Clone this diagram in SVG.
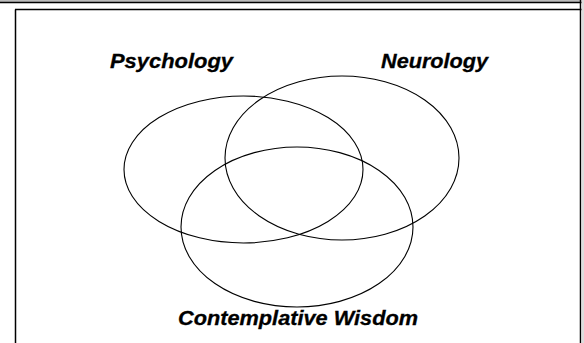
<svg xmlns="http://www.w3.org/2000/svg" width="584" height="343" viewBox="0 0 584 343">
  <style>
    .frame { fill: none; stroke: #000; stroke-width: 1.5; }
    .set { fill: none; stroke: #000; stroke-width: 1.1; }
    .label { font-family: "Liberation Sans", Arial, sans-serif; font-weight: bold; font-style: italic; font-size: 20px; fill: #000; stroke: #000; stroke-width: 0.3; }
  </style>
  <rect width="584" height="343" fill="#fff"/>
  <!-- page edge lines -->
  <g id="frame">
    <rect x="0" y="0" width="584" height="2" fill="#bbb"/>
    <line class="frame" x1="0" y1="2.5" x2="584" y2="2.5"/>
    <line class="frame" x1="15" y1="9.5" x2="584" y2="9.5"/>
    <line class="frame" x1="15.5" y1="9.5" x2="15.5" y2="343"/>
    <line class="frame" x1="580.5" y1="0" x2="580.5" y2="343"/>
    <rect x="581.5" y="0" width="2.5" height="343" fill="#ddd"/>
  </g>
  <g id="psychology">
    <ellipse class="set" cx="243.5" cy="169.5" rx="119.5" ry="73.5"/>
    <text class="label" x="110" y="67.5" textLength="123" lengthAdjust="spacingAndGlyphs">Psychology</text>
  </g>
  <g id="neurology">
    <ellipse class="set" cx="342" cy="158" rx="117" ry="82"/>
    <text class="label" x="381" y="67.5" textLength="107" lengthAdjust="spacingAndGlyphs">Neurology</text>
  </g>
  <g id="contemplative-wisdom">
    <ellipse class="set" cx="297" cy="227" rx="116" ry="80"/>
    <text class="label" x="178" y="324.5" textLength="240" lengthAdjust="spacingAndGlyphs">Contemplative Wisdom</text>
  </g>
  <g id="connectors"/>
</svg>
